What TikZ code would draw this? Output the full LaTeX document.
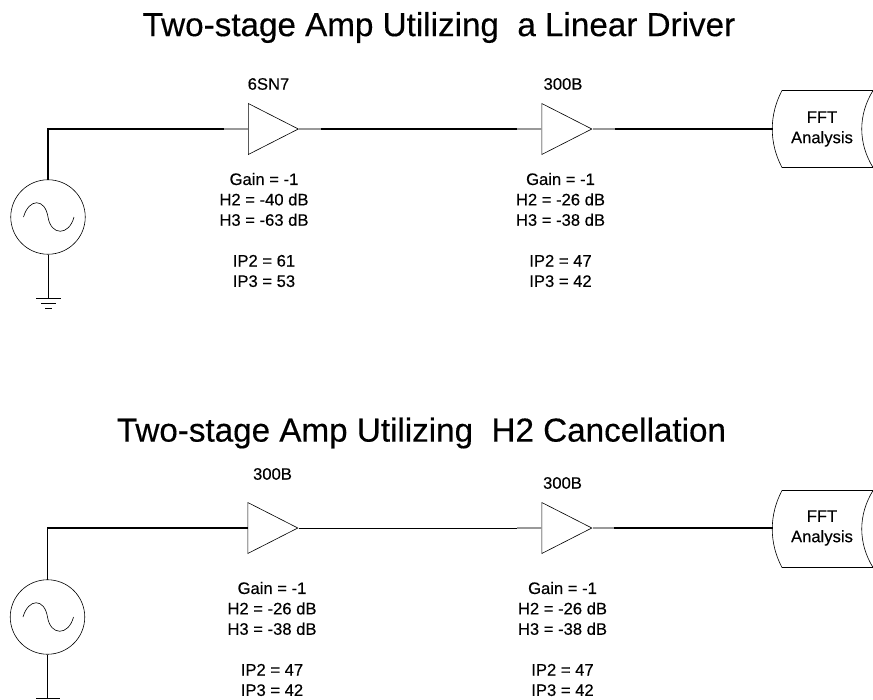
\documentclass[tikz,border=0pt]{standalone}
\usepackage{fontspec}
\setmainfont[RawFeature={embolden=0.35}]{Liberation Sans}
\usetikzlibrary{shapes.geometric}
\tikzset{
  titletext/.style={font=\fontsize{18.9}{23}\selectfont},
  smalltext/.style={font=\fontsize{9.45}{11.6}\selectfont, align=center, inner sep=0pt},
  amp/.style={draw, shape=isosceles triangle, isosceles triangle stretches, shape border rotate=0,
    minimum width=1.02cm, minimum height=1.00cm, inner sep=0pt, anchor=lower side, line width=0.35pt},
  source/.style={draw, circle, minimum size=1.49cm, inner sep=0pt, line width=0.35pt},
  wire/.style={line width=0.9pt, line cap=rect},
  stub/.style={line width=0.9pt, black!40},
  thin wire/.style={line width=0.5pt},
  outline/.style={line width=0.35pt}
}

\begin{document}
\begin{tikzpicture}
  \useasboundingbox (0.00, 0.00) rectangle (17.46, -14.00);

  % upper chain
  \node[titletext] (title1) at (8.78, -0.55) {Two-stage Amp Utilizing\ \ a Linear Driver};
  \node[source] (src1) at (0.96, -4.34) {};
  \draw[outline] (0.47, -4.34) .. controls (0.58, -3.96) and (0.90, -3.96) .. (0.96, -4.34)
    .. controls (1.02, -4.72) and (1.38, -4.72) .. (1.48, -4.34);
  \node[amp] (amp1) at (4.96, -2.58) {};
  \node[amp] (amp2) at (10.83, -2.58) {};
  \node[smalltext] (type1) at (5.37, -1.68) {6SN7};
  \node[smalltext] (type2) at (11.26, -1.68) {300B};
  \node[smalltext] (data1) at (5.28, -4.60) {Gain = -1\\H2 = -40 dB\\H3 = -63 dB\\ \\IP2 = 61\\IP3 = 53};
  \node[smalltext] (data2) at (11.21, -4.60) {Gain = -1\\H2 = -26 dB\\H3 = -38 dB\\ \\IP2 = 47\\IP3 = 42};
  \node[smalltext] (fft1) at (16.44, -2.58) {FFT\\Analysis};
  \draw[outline] (15.64, -1.81) .. controls (15.38, -2.30) and (15.38, -2.86) .. (15.64, -3.35)
    -- (17.46, -3.35) .. controls (17.16, -2.86) and (17.16, -2.30) .. (17.46, -1.81) -- cycle;

  \coordinate (a1) at (4.48, -2.58);
  \coordinate (b1) at (6.44, -2.58);
  \coordinate (c1) at (10.34, -2.58);
  \coordinate (d1) at (12.32, -2.58);
  \coordinate (e1) at (15.45, -2.58);
  \coordinate (gnd1) at (0.96, -5.96);
  \draw[wire] (src1.north) |- (a1);
  \draw[stub] (a1) -- (amp1.lower side);
  \draw[stub] (amp1.apex) -- (b1);
  \draw[wire] (b1) -- (c1);
  \draw[stub] (c1) -- (amp2.lower side);
  \draw[stub] (amp2.apex) -- (d1);
  \draw[wire] (d1) -- (e1);
  \draw[thin wire] (src1.south) -- (gnd1);
  \draw[outline] (0.72, -5.96) -- (1.22, -5.96);
  \draw[outline] (0.82, -6.07) -- (1.12, -6.07);
  \draw[outline] (0.90, -6.17) -- (1.04, -6.17);

  % lower chain
  \node[titletext] (title2) at (8.43, -8.66) {Two-stage Amp Utilizing\ \ H2 Cancellation};
  \node[source] (src2) at (0.95, -12.34) {};
  \draw[outline] (0.46, -12.34) .. controls (0.57, -11.96) and (0.89, -11.96) .. (0.95, -12.34)
    .. controls (1.01, -12.72) and (1.37, -12.72) .. (1.47, -12.34);
  \node[amp] (amp3) at (4.95, -10.56) {};
  \node[amp] (amp4) at (10.83, -10.56) {};
  \node[smalltext] (type3) at (5.45, -9.48) {300B};
  \node[smalltext] (type4) at (11.25, -9.66) {300B};
  \node[smalltext] (data3) at (5.44, -12.78) {Gain = -1\\H2 = -26 dB\\H3 = -38 dB\\ \\IP2 = 47\\IP3 = 42};
  \node[smalltext] (data4) at (11.25, -12.78) {Gain = -1\\H2 = -26 dB\\H3 = -38 dB\\ \\IP2 = 47\\IP3 = 42};
  \node[smalltext] (fft2) at (16.44, -10.56) {FFT\\Analysis};
  \draw[outline] (15.64, -9.81) .. controls (15.38, -10.30) and (15.38, -10.86) .. (15.64, -11.35)
    -- (17.46, -11.35) .. controls (17.16, -10.86) and (17.16, -10.30) .. (17.46, -9.81) -- cycle;

  \coordinate (c2) at (10.34, -10.56);
  \coordinate (d2) at (12.30, -10.56);
  \coordinate (e2) at (15.45, -10.56);
  \coordinate (gnd2) at (0.95, -13.96);
  \draw[wire] (src2.north) |- (amp3.lower side);
  \draw[thin wire] (amp3.apex) -- (c2);
  \draw[stub] (c2) -- (amp4.lower side);
  \draw[stub] (amp4.apex) -- (d2);
  \draw[wire] (d2) -- (e2);
  \draw[thin wire] (src2.south) -- (gnd2);
  \draw[outline] (0.72, -13.96) -- (1.20, -13.96);
\end{tikzpicture}
\end{document}
